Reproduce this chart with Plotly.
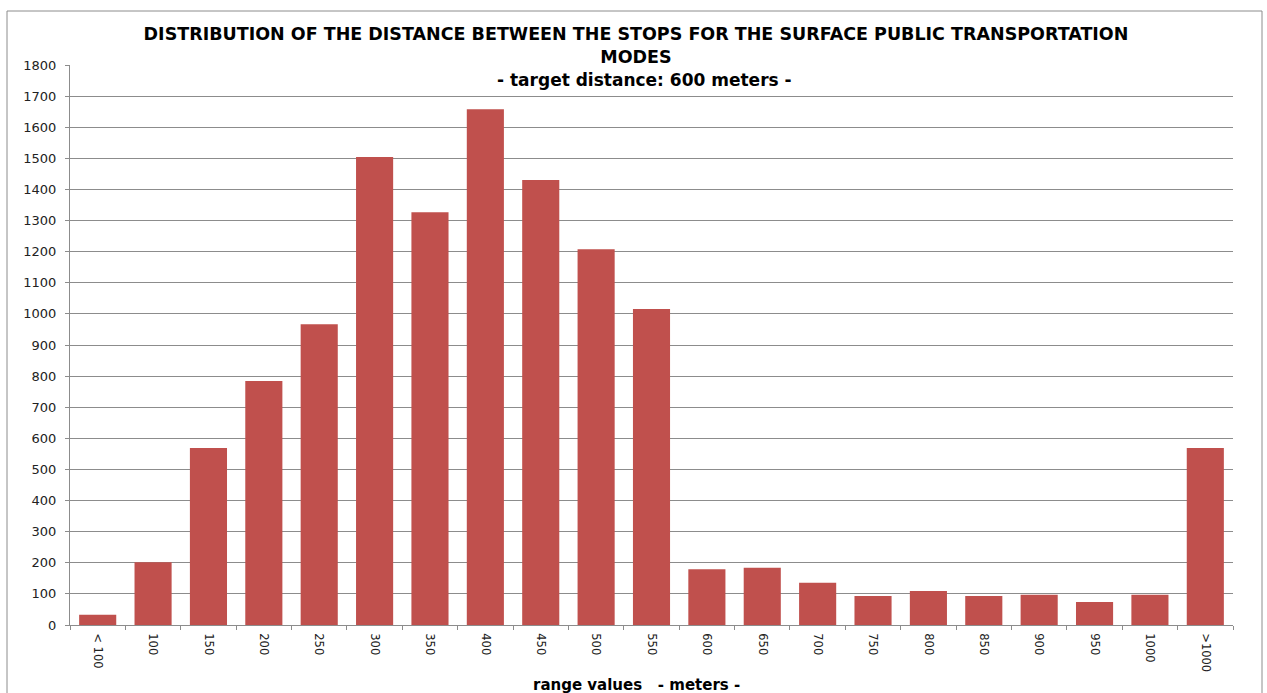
import plotly.graph_objects as go

# Distance classes (meters) and number of stop-to-stop intervals in each
categories = ["< 100", "100", "150", "200", "250", "300", "350", "400", "450", "500",
              "550", "600", "650", "700", "750", "800", "850", "900", "950", "1000", ">1000"]
counts = [33, 202, 569, 784, 967, 1504, 1327, 1658, 1430, 1208,
          1016, 179, 184, 136, 93, 109, 93, 97, 74, 97, 569]

y_ticks = list(range(0, 1801, 100))

W, H = 1267, 693
L, R, T, B = 70, 34, 65, 68
pw, ph = W - L - R, H - T - B

FONT = "DejaVu Sans, Liberation Sans, Arial, sans-serif"


def px_x(x):
    return (x - L) / pw


def px_y(y):
    return (H - B - y) / ph


fig = go.Figure(go.Bar(
    x=categories,
    y=counts,
    marker=dict(color="#C0504D", line=dict(width=0)),
))

fig.update_layout(
    width=W, height=H,
    margin=dict(l=L, r=R, t=T, b=B),
    paper_bgcolor="white",
    plot_bgcolor="white",
    bargap=0.33,
    showlegend=False,
    font=dict(family=FONT, color="#000000"),
    title=dict(
        text="<b>DISTRIBUTION OF THE DISTANCE BETWEEN THE STOPS FOR THE SURFACE PUBLIC TRANSPORTATION<br>MODES</b>",
        x=636 / W, xref="container", xanchor="center",
        y=1 - 40 / H, yref="container", yanchor="middle",
        font=dict(size=17.5, family=FONT),
    ),
    annotations=[
        dict(text="<b>- target distance: 600 meters -</b>",
             xref="paper", yref="paper", x=px_x(644), y=px_y(80),
             xanchor="center", yanchor="middle", showarrow=False,
             font=dict(size=17, family=FONT)),
        dict(text="<b>range values   - meters -</b>",
             xref="paper", yref="paper", x=px_x(636), y=px_y(685),
             xanchor="center", yanchor="middle", showarrow=False,
             font=dict(size=15, family=FONT)),
    ],
    shapes=[
        dict(type="rect", xref="paper", yref="paper",
             x0=px_x(7), x1=px_x(1262), y0=px_y(720), y1=px_y(11),
             line=dict(color="#8c8c8c", width=1), fillcolor="rgba(0,0,0,0)", layer="below"),
    ],
)

fig.update_xaxes(
    type="category",
    tickangle=90,
    tickfont=dict(size=11.5, color="#222222", family=FONT),
    showgrid=False,
    showline=True, linecolor="#8c8c8c", linewidth=1,
    ticks="outside", tickson="boundaries", ticklen=4, tickcolor="#8c8c8c",
    ticklabelstandoff=5,
    fixedrange=True,
)

fig.update_yaxes(
    range=[0, 1800],
    tickvals=y_ticks,
    tickfont=dict(size=13, color="#222222", family=FONT),
    showgrid=True, gridcolor="#8c8c8c", gridwidth=1,
    showline=True, linecolor="#8c8c8c", linewidth=1,
    ticks="outside", ticklen=4, tickcolor="#8c8c8c",
    ticklabelstandoff=6,
    zeroline=False,
    fixedrange=True,
)

fig.write_html("out.html")
